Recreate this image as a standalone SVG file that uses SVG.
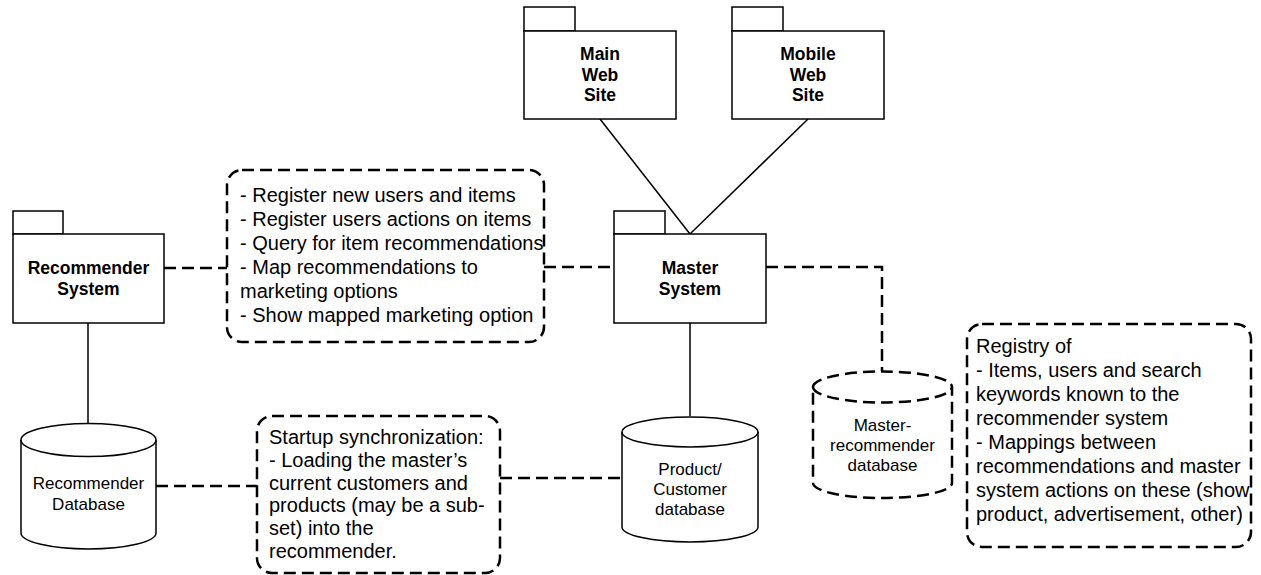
<svg xmlns="http://www.w3.org/2000/svg" width="1261" height="575" viewBox="0 0 1261 575">
<style>
.pkg{fill:#fff;stroke:#000;stroke-width:1.5}
.solid{fill:none;stroke:#000;stroke-width:1.5}
.dash{fill:none;stroke:#000;stroke-width:2.5;stroke-dasharray:12 6}
.note{fill:#fff;stroke:#000;stroke-width:2.5;stroke-dasharray:12 6}
.b{font-family:"Liberation Sans",Arial,sans-serif;font-weight:bold;font-size:17.5px;text-anchor:middle;fill:#000}
.c{font-family:"Liberation Sans",Arial,sans-serif;font-size:17px;text-anchor:middle;fill:#000}
.t{font-family:"Liberation Sans",Arial,sans-serif;font-size:20px;fill:#000}
</style>
<rect width="1261" height="575" fill="#fff"/>
<g id="connectors">
<line class="dash" x1="164" y1="268" x2="227" y2="268"/>
<line class="dash" x1="544" y1="267" x2="614" y2="267"/>
<polyline class="dash" points="766,267 882,267 882,371"/>
<line class="solid" x1="600" y1="119" x2="690" y2="234"/>
<line class="solid" x1="808" y1="119" x2="690" y2="234"/>
<line class="solid" x1="690" y1="323" x2="690" y2="416"/>
<line class="solid" x1="88" y1="323" x2="88" y2="423"/>
<line class="dash" x1="156" y1="486" x2="257" y2="486"/>
<line class="dash" x1="500" y1="478" x2="622" y2="478"/>
</g>
<g id="recommender-system">
<rect class="pkg" x="13" y="211" width="50" height="23"/>
<rect class="pkg" x="13" y="234" width="151" height="89"/>
<text class="b" x="88.5" y="274">Recommender</text>
<text class="b" x="88.5" y="295">System</text>
</g>
<g id="master-system">
<rect class="pkg" x="614" y="211" width="51" height="23"/>
<rect class="pkg" x="614" y="234" width="152" height="89"/>
<text class="b" x="690" y="274">Master</text>
<text class="b" x="690" y="295">System</text>
</g>
<g id="main-web-site">
<rect class="pkg" x="524" y="7" width="51" height="24"/>
<rect class="pkg" x="524" y="31" width="152" height="88"/>
<text class="b" x="600" y="60">Main</text>
<text class="b" x="600" y="81">Web</text>
<text class="b" x="600" y="101">Site</text>
</g>
<g id="mobile-web-site">
<rect class="pkg" x="732" y="7" width="51" height="24"/>
<rect class="pkg" x="732" y="31" width="152" height="88"/>
<text class="b" x="808" y="60">Mobile</text>
<text class="b" x="808" y="81">Web</text>
<text class="b" x="808" y="101">Site</text>
</g>
<g id="recommender-database">
<path class="pkg" d="M21,440 A67.5,16.5 0 0 1 156,440 L156,533 A67.5,16 0 0 1 21,533 Z"/>
<path class="solid" d="M21,440 A67.5,16.5 0 0 0 156,440"/>
<text class="c" x="88.5" y="489">Recommender</text>
<text class="c" x="88.5" y="510">Database</text>
</g>
<g id="product-customer-database">
<path class="pkg" d="M622,432 A68,15 0 0 1 758,432 L758,527 A68,15 0 0 1 622,527 Z"/>
<path class="solid" d="M622,432 A68,15 0 0 0 758,432"/>
<text class="c" x="690" y="475">Product/</text>
<text class="c" x="690" y="495">Customer</text>
<text class="c" x="690" y="515">database</text>
</g>
<g id="master-recommender-database">
<path class="note" d="M813,387 A69.5,15.5 0 0 1 952,387 L952,483 A69.5,15 0 0 1 813,483 Z"/>
<path class="dash" d="M813,387 A69.5,15.5 0 0 0 952,387"/>
<text class="c" x="882.5" y="431">Master-</text>
<text class="c" x="882.5" y="451">recommender</text>
<text class="c" x="882.5" y="471">database</text>
</g>
<g id="note-interface">
<rect class="note" x="227" y="170" width="317" height="172" rx="15" ry="15"/>
<text class="t" x="240" y="202">- Register new users and items</text>
<text class="t" x="240" y="226">- Register users actions on items</text>
<text class="t" x="240" y="250">- Query for item recommendations</text>
<text class="t" x="240" y="274">- Map recommendations to</text>
<text class="t" x="240" y="298">marketing options</text>
<text class="t" x="240" y="322">- Show mapped marketing option</text>
</g>
<g id="note-startup">
<rect class="note" x="257" y="416" width="243" height="157" rx="15" ry="15"/>
<text class="t" x="269" y="444">Startup synchronization:</text>
<text class="t" x="269" y="467">- Loading the master’s</text>
<text class="t" x="269" y="490">current customers and</text>
<text class="t" x="269" y="512">products (may be a sub-</text>
<text class="t" x="269" y="535">set) into the</text>
<text class="t" x="269" y="558">recommender.</text>
</g>
<g id="note-registry">
<rect class="note" x="967" y="324" width="284" height="223" rx="15" ry="15"/>
<text class="t" x="976" y="353">Registry of</text>
<text class="t" x="976" y="377">- Items, users and search</text>
<text class="t" x="976" y="401">keywords known to the</text>
<text class="t" x="976" y="425">recommender system</text>
<text class="t" x="976" y="449">- Mappings between</text>
<text class="t" x="976" y="473">recommendations and master</text>
<text class="t" x="976" y="497">system actions on these (show</text>
<text class="t" x="976" y="521">product, advertisement, other)</text>
</g>
</svg>
